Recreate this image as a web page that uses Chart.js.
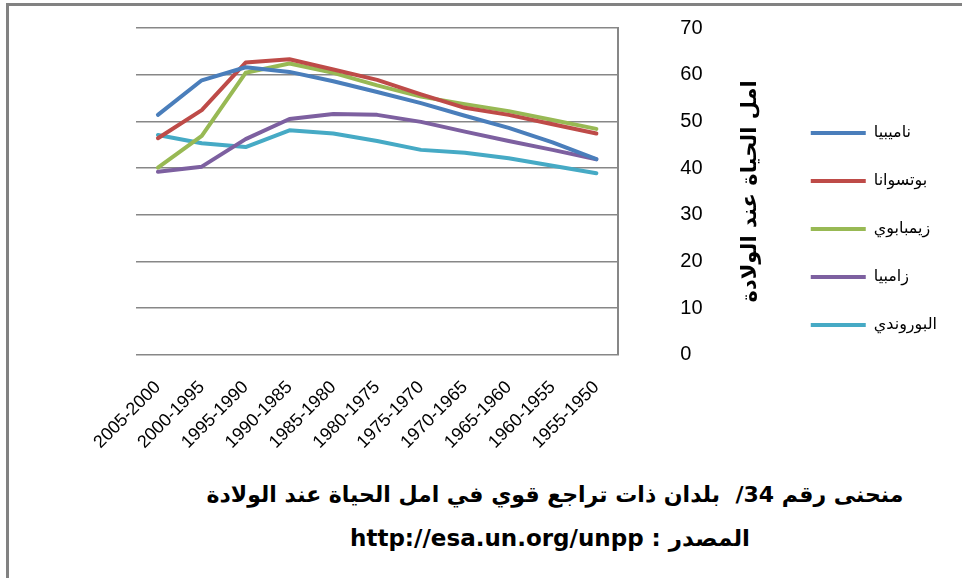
<!DOCTYPE html>
<html lang="ar">
<head>
<meta charset="utf-8">
<title>امل الحياة عند الولادة</title>
<script src="https://cdn.jsdelivr.net/npm/chart.js@4"></script>
<style>
    html, body {
        margin: 0;
        padding: 0;
        background: #fff;
    }
    #frame {
        position: relative;
        width: 962px;
        height: 578px;
        overflow: hidden;
    }
    #edge {
        position: absolute;
        left: 6px;
        top: 3px;
        width: 970px;
        height: 590px;
        border-left: 3px solid #828282;
        border-top: 3px solid #828282;
    }
    #wrap {
        position: absolute;
        left: 0;
        top: 0;
        width: 962px;
        height: 470px;
    }
    .caption {
        position: absolute;
        left: 0;
        width: 1110px;
        text-align: center;
        direction: rtl;
        font-family: "DejaVu Sans", sans-serif;
        font-weight: bold;
        font-size: 22px;
        color: #000;
        white-space: nowrap;
    }
</style>
</head>
<body>
<div id="frame">
    <div id="edge"></div>
    <div id="wrap"><canvas id="lifeChart"></canvas></div>
    <div class="caption" id="line1" style="top:482px;">منحنى رقم 34/&nbsp; بلدان ذات تراجع قوي في امل الحياة عند الولادة</div>
    <div class="caption" id="line2" style="top:525px; width:1100px; font-size:23px;">المصدر : http://esa.un.org/unpp</div>
</div>
<script>
// periods run from the most recent on the left back to 1950
const periods = ['2005-2000', '2000-1995', '1995-1990', '1990-1985', '1985-1980', '1980-1975',
                 '1975-1970', '1970-1965', '1965-1960', '1960-1955', '1955-1950'];

const namibia  = [51.4, 58.8, 61.6, 60.6, 58.6, 56.3, 53.9, 51.2, 48.6, 45.5, 41.9];
const botswana = [46.4, 52.4, 62.6, 63.3, 61.1, 58.9, 55.8, 52.9, 51.4, 49.4, 47.4];
const zimbabwe = [40.1, 46.9, 60.4, 62.4, 60.4, 57.7, 55.3, 53.7, 52.2, 50.3, 48.4];
const zambia   = [39.2, 40.3, 46.2, 50.5, 51.6, 51.4, 49.9, 47.8, 45.8, 43.9, 41.9];
const burundi  = [47.1, 45.3, 44.5, 48.1, 47.4, 45.8, 43.9, 43.3, 42.1, 40.5, 38.9];

const countryNames = ['ناميبيا', 'بوتسوانا', 'زيمبابوي', 'زامبيا', 'البوروندي'];
const countryColors = ['#4a7ebb', '#be4b48', '#98b954', '#7d60a0', '#46aac5'];
const yTitle = 'امل الحياة عند الولادة';

const titleFont = { family: '"DejaVu Sans", sans-serif', size: 21, weight: 'bold', lineHeight: 1.2 };
const titlePad = { top: 16, bottom: 31 };

// the right-hand axis title reads top to bottom, so draw it rotated the other way
const axisTitlePlugin = {
    id: 'axisTitle',
    afterDraw(chart) {
        const scale = chart.scales.y;
        const ctx = chart.ctx;
        const lh = titleFont.size * titleFont.lineHeight;
        const x = scale.right - titlePad.top - lh / 2;
        const y = (scale.top + scale.bottom) / 2;
        ctx.save();
        ctx.translate(x, y);
        ctx.rotate(-Math.PI / 2);
        ctx.font = 'bold ' + titleFont.size + 'px ' + titleFont.family;
        ctx.fillStyle = '#000';
        ctx.textAlign = 'center';
        ctx.textBaseline = 'middle';
        ctx.fillText(yTitle, 0, 0);
        ctx.restore();
    }
};

const series = [namibia, botswana, zimbabwe, zambia, burundi];

const ctx = document.getElementById('lifeChart').getContext('2d');
const lifeChart = new Chart(ctx, {
    type: 'line',
    data: {
        labels: periods,
        datasets: series.map((values, i) => ({
            label: countryNames[i],
            data: values,
            borderColor: countryColors[i],
            backgroundColor: countryColors[i],
            borderWidth: 4,
            borderJoinStyle: 'round',
            borderCapStyle: 'round',
            pointRadius: 0,
            tension: 0,
            fill: false
        }))
    },
    options: {
        responsive: true,
        maintainAspectRatio: false,
        animation: false,
        layout: {
            padding: { left: 136, top: 28, right: 15, bottom: 3 }
        },
        plugins: {
            tooltip: { enabled: false },
            legend: {
                position: 'right',
                align: 'start',
                title: {
                    display: true,
                    text: '',
                    font: { size: 10, lineHeight: 1 },
                    padding: { top: 55, bottom: 0 }
                },
                labels: {
                    usePointStyle: true,
                    pointStyle: 'line',
                    pointStyleWidth: 55,
                    padding: 32,
                    color: '#000',
                    font: { family: '"DejaVu Sans", sans-serif', size: 16 }
                }
            }
        },
        scales: {
            x: {
                offset: true,
                grid: { display: false },
                border: { display: false },
                ticks: {
                    minRotation: 45,
                    maxRotation: 45,
                    autoSkip: false,
                    padding: 14,
                    color: '#000',
                    font: { family: '"Liberation Sans", Arial, sans-serif', size: 18 }
                }
            },
            y: {
                position: 'right',
                min: 0,
                max: 70,
                // long invisible tick marks keep the numbers well clear of the plot
                grid: { color: '#878787', lineWidth: 1.5, drawTicks: true, tickLength: 58, tickColor: 'rgba(0,0,0,0)' },
                border: { display: true, color: '#878787', width: 2 },
                ticks: {
                    stepSize: 10,
                    padding: 4,
                    color: '#000',
                    font: { family: '"Liberation Sans", Arial, sans-serif', size: 20 }
                },
                title: {
                    display: true,
                    text: yTitle,
                    color: 'rgba(0,0,0,0)',
                    font: titleFont,
                    padding: titlePad
                }
            }
        }
    },
    plugins: [axisTitlePlugin]
});
</script>
</body>
</html>
